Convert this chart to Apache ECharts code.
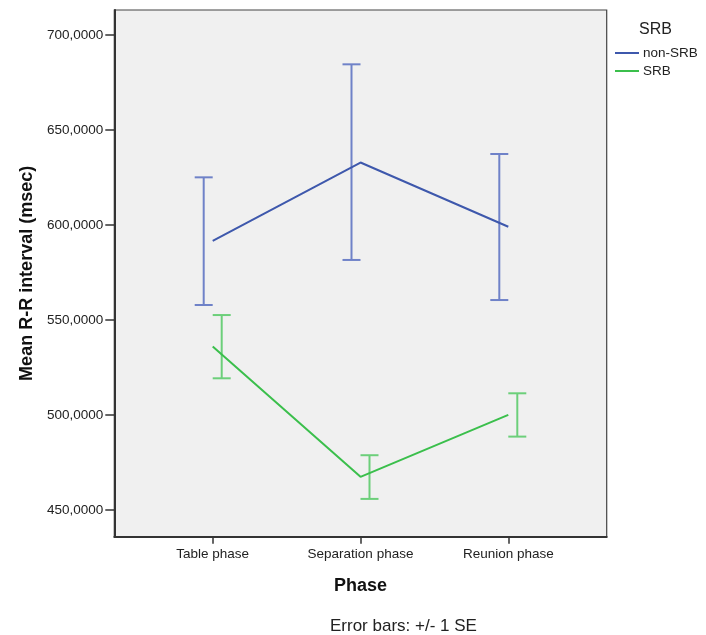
<!DOCTYPE html>
<html>
<head>
<meta charset="utf-8">
<script src="https://cdn.jsdelivr.net/npm/echarts@6/dist/echarts.min.js"></script>
<style>html,body{margin:0;padding:0;background:#fff}#c{width:706px;height:635px}</style>
</head>
<body>
<div id="c"></div>
<script>
var categories = ['Table phase', 'Separation phase', 'Reunion phase'];
var nonSrbMean = [591.7, 632.9, 599.1];
var nonSrbLow  = [557.9, 581.6, 560.5];
var nonSrbHigh = [625.1, 684.6, 637.4];
var srbMean = [536.0, 467.4, 500.0];
var srbLow  = [519.3, 455.8, 488.6];
var srbHigh = [552.6, 478.8, 511.4];
var yTicks = [450, 500, 550, 600, 650, 700];
var xTicks = [0, 1, 2];

var FONT = '"Liberation Sans", Arial, sans-serif';
var TXT = '#222';
var blueLine = '#3e58ac', blueErr = '#6f82c8';
var greenLine = '#3bbf4c', greenErr = '#6ccf7a';

function pts(arr) { return arr.map(function (v, i) { return [i, v]; }); }
function errData(lo, hi) { return lo.map(function (v, i) { return [i, v, hi[i]]; }); }
function errRender(dx, color) {
  return function (params, api) {
    var x = api.value(0);
    var a = api.coord([x, api.value(1)]);
    var b = api.coord([x, api.value(2)]);
    var px = a[0] + dx, cap = 9;
    var st = { stroke: color, lineWidth: 2 };
    return { type: 'group', children: [
      { type: 'line', shape: { x1: px, y1: a[1], x2: px, y2: b[1] }, style: st },
      { type: 'line', shape: { x1: px - cap, y1: a[1], x2: px + cap, y2: a[1] }, style: st },
      { type: 'line', shape: { x1: px - cap, y1: b[1], x2: px + cap, y2: b[1] }, style: st }
    ]};
  };
}

var chart = echarts.init(document.getElementById('c'), null, { renderer: 'canvas' });
chart.setOption({
  animation: false,
  backgroundColor: '#fff',
  textStyle: { fontFamily: FONT },
  title: {
    text: 'SRB', left: 634, top: 17,
    textStyle: { fontFamily: FONT, fontSize: 16, fontWeight: 'normal', color: TXT }
  },
  legend: {
    orient: 'vertical', left: 610, top: 41, itemGap: 4,
    itemWidth: 24, itemHeight: 2, icon: 'rect',
    data: ['non-SRB', 'SRB'],
    textStyle: { fontFamily: FONT, fontSize: 13.5, color: TXT, padding: [0, 0, 0, -1] }
  },
  graphic: [{
    type: 'text', left: 330, top: 618,
    style: { text: 'Error bars: +/- 1 SE', font: '17px ' + FONT, fill: TXT }
  }],
  grid: {
    left: 114.3, top: 10, right: 99.3, bottom: 98.3,
    show: true, backgroundColor: '#f0f0f0', borderColor: '#444', borderWidth: 1.2
  },
  xAxis: {
    type: 'value', min: -0.6658, max: 2.6658,
    name: 'Phase', nameLocation: 'middle', nameGap: 40,
    nameTextStyle: { fontFamily: FONT, fontSize: 18, fontWeight: 'bold', color: '#111' },
    axisLine: { show: true, onZero: false, lineStyle: { color: '#333', width: 2 } },
    axisTick: { show: true, length: 7, customValues: xTicks, lineStyle: { color: '#333', width: 1.5 } },
    axisLabel: {
      customValues: xTicks, margin: 11, fontFamily: FONT, fontSize: 13.5, color: TXT,
      formatter: function (v) { return categories[Math.round(v)]; }
    },
    splitLine: { show: false }
  },
  yAxis: {
    type: 'value', min: 435.9, max: 713.2,
    name: 'Mean R-R interval (msec)', nameLocation: 'middle', nameGap: 78,
    nameTextStyle: { fontFamily: FONT, fontSize: 18, fontWeight: 'bold', color: '#111' },
    axisLine: { show: true, onZero: false, lineStyle: { color: '#333', width: 2 } },
    axisTick: { show: true, length: 9, customValues: yTicks, lineStyle: { color: '#333', width: 1.5 } },
    axisLabel: {
      customValues: yTicks, margin: 11, fontFamily: FONT, fontSize: 13.5, color: TXT,
      formatter: function (v) { return v.toFixed(4).replace('.', ','); }
    },
    splitLine: { show: false }
  },
  series: [
    { name: 'nonErr', type: 'custom', renderItem: errRender(-9, blueErr), data: errData(nonSrbLow, nonSrbHigh), z: 2 },
    { name: 'srbErr', type: 'custom', renderItem: errRender(9, greenErr), data: errData(srbLow, srbHigh), z: 2 },
    { name: 'non-SRB', type: 'line', data: pts(nonSrbMean), symbol: 'none', color: blueLine,
      lineStyle: { color: blueLine, width: 2 }, z: 3 },
    { name: 'SRB', type: 'line', data: pts(srbMean), symbol: 'none', color: greenLine,
      lineStyle: { color: greenLine, width: 2 }, z: 3 }
  ]
});
</script>
</body>
</html>
